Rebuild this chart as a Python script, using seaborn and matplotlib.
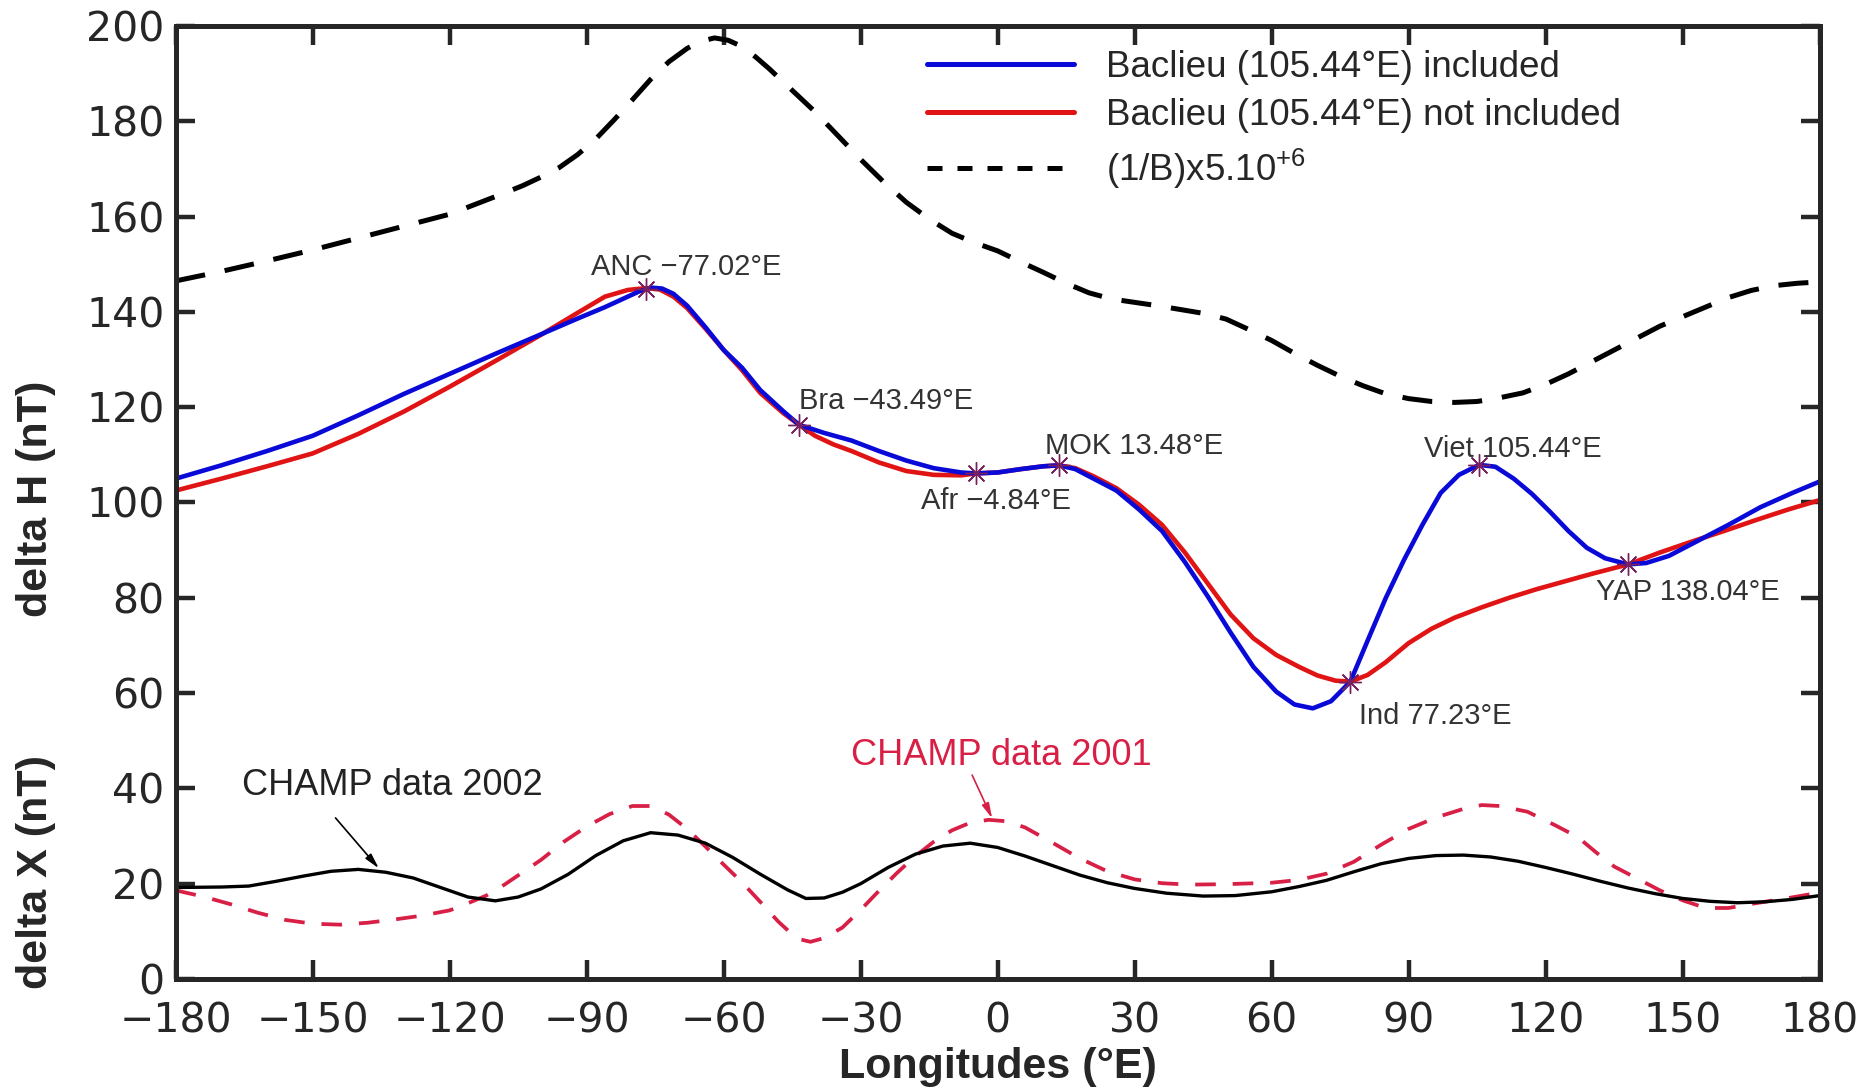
import pandas as pd
import seaborn as sns
import matplotlib.pyplot as plt
import matplotlib.transforms as mtransforms
from matplotlib.lines import Line2D

# ---- data (longitude in deg E, values in nT) ----
# delta H with Baclieu included
lon_inc = [-180, -170, -160, -150, -140, -130, -120, -110, -100, -92, -86, -81, -78.5, -76, -73.5, -71, -68,
           -64, -60, -56, -52, -47, -43.49, -38, -32, -26, -20, -14, -8, -4.84, 0, 5, 10, 13.48, 17,
           21, 26, 31, 36, 41, 46, 51, 56, 61, 65, 69, 73, 77.23, 81, 85, 89, 93, 97, 101, 105.44,
           109, 113, 117, 121, 125, 129, 133, 138.04, 142, 147, 153, 160, 167, 174, 180]
dh_inc = [105, 107.8, 110.8, 114, 118.3, 122.8, 127, 131.2, 135.3, 138.6, 141, 143.2, 144.3, 145.1, 144.9,
          143.8, 141.3, 136.8, 132, 128.3, 123.6, 119.2, 116.3, 114.6, 113, 110.8, 108.8, 107.2, 106.3, 106.1,
          106.3, 107, 107.6, 107.8, 107, 105, 102.5, 98.5, 94, 87.5, 80.3, 72.7, 65.5, 60.3, 57.6, 56.8,
          58.3, 62.4, 71, 80, 88, 95.3, 102, 105.8, 107.9, 107.5, 105, 101.8, 98, 94, 90.5, 88.3, 87,
          87.3, 88.8, 91.8, 95.3, 99, 102, 104.4]

# delta H with Baclieu not included
lon_exc = [-180, -170, -160, -150, -140, -130, -120, -110, -100, -92, -86, -81, -77.02, -74, -71, -68,
           -64, -60, -56, -52, -47, -43.49, -40, -36, -32, -26, -20, -14, -8, -4.84, 0, 5, 10, 13.48,
           17, 21, 26, 31, 36, 41, 46, 51, 56, 61, 66, 70, 74, 77.23, 81, 85, 90, 95, 100, 106, 112,
           118, 124, 130, 138.04, 145, 152, 159, 166, 173, 180]
dh_exc = [102.5, 105, 107.6, 110.3, 114.4, 119.1, 124.3, 129.7, 135.2, 139.8, 143.2, 144.6, 145, 144.7,
          143.2, 140.8, 136.5, 132, 127.8, 123, 118.8, 116.3, 114, 112.2, 110.8, 108.4, 106.6, 105.8,
          105.7, 106.1, 106.3, 107, 107.6, 107.8, 107.2, 105.5, 103, 99.5, 95.3, 89.5, 83, 76.5, 71.5,
          68, 65.5, 63.7, 62.6, 62.4, 63.8, 66.5, 70.5, 73.5, 75.8, 78, 80, 81.8, 83.4, 85, 87, 89.5,
          91.8, 94, 96.3, 98.5, 100.5]

# (1/B) x 5e6
lon_b = [-180, -170, -160, -150, -140, -130, -120, -110, -104, -100, -96, -92, -88, -84, -80, -76, -72,
         -68, -65, -62, -59, -56, -53, -50, -45, -40, -35, -30, -25, -20, -15, -10, -5, 0, 5, 10, 15,
         20, 25, 30, 35, 40, 45, 50, 55, 60, 65, 70, 75, 80, 85, 90, 95, 100, 105, 110, 115, 120, 125,
         130, 135, 140, 145, 150, 155, 160, 165, 170, 175, 180]
inv_b = [146.5, 148.5, 150.7, 153, 155.5, 158, 160.5, 164.2, 166.5, 168.3, 170.3, 173, 176.3, 180.3,
         184.5, 188.8, 192.5, 195.3, 196.8, 197.5, 197, 195.7, 193.5, 191, 186.5, 182, 177, 172,
         167.3, 163, 159.5, 156.5, 154.5, 152.8, 150.5, 148.3, 146, 144, 142.7, 142, 141.3, 140.5,
         139.7, 138.5, 136.3, 134, 131.3, 128.8, 126.5, 124.5, 122.8, 121.8, 121.2, 121, 121.2, 122,
         123, 124.8, 127, 129.5, 132, 134.5, 137, 139, 141, 143, 144.5, 145.5, 146, 146.3]

# CHAMP delta X, 2002 (solid) and 2001 (dashed)
lon_2002 = [-180, -170, -164, -158, -152, -146, -140, -134, -128, -122, -116, -110, -105, -100, -94, -88,
            -82, -76, -70, -64, -58, -52, -46, -42, -38, -34, -30, -24, -18, -12, -6, 0, 6, 12, 18, 24,
            30, 37, 45, 52, 60, 66, 72, 78, 84, 90, 96, 102, 108, 114, 120, 126, 132, 138, 144, 150,
            156, 162, 168, 174, 180]
dx_2002 = [19.2, 19.3, 19.5, 20.5, 21.6, 22.6, 23, 22.4, 21.2, 19.2, 17.2, 16.4, 17.2, 18.9, 22, 25.9,
           29, 30.7, 30.2, 28.5, 25.5, 22, 18.7, 16.9, 17, 18.2, 20, 23.4, 26.2, 27.9, 28.5, 27.6, 25.8,
           23.8, 21.8, 20.2, 19, 18, 17.4, 17.5, 18.3, 19.4, 20.7, 22.5, 24.2, 25.3, 25.9, 26, 25.6,
           24.7, 23.4, 22, 20.5, 19.1, 17.9, 16.9, 16.3, 16, 16.2, 16.7, 17.5]

lon_2001 = [-180, -174, -168, -162, -156, -150, -144, -138, -132, -126, -120, -116, -112, -108, -104,
            -100, -95, -90, -85, -80, -76, -72, -68, -64, -60, -56, -52, -48, -44, -41, -38, -34, -30,
            -26, -22, -18, -14, -10, -6, -2, 2, 6, 12, 18, 24, 30, 36, 42, 50, 60, 66, 72, 78, 84, 90,
            96, 102, 106, 110, 116, 122, 127, 131, 135, 140, 145, 150, 155, 160, 166, 172, 178, 180]
dx_2001 = [18.6, 17.3, 15.7, 13.9, 12.4, 11.6, 11.4, 11.8, 12.5, 13.3, 14.4, 15.9, 17.5, 19.8, 22.4,
           25, 28.8, 32, 34.6, 36.3, 36.3, 34.5, 31.5, 27.8, 24, 20.3, 16.2, 12, 8.5, 7.8, 8.6, 10.8,
           14.5, 18.5, 22.3, 25.8, 28.8, 31.2, 32.8, 33.4, 33.1, 31.8, 28.6, 25.3, 22.6, 20.9, 20.1,
           19.8, 19.9, 20.2, 20.8, 22.1, 24.6, 28.2, 31.5, 33.9, 35.7, 36.5, 36.3, 35.1, 32.3, 29.8,
           26.6, 23.6, 21.1, 18.6, 16.5, 14.9, 14.9, 15.9, 16.8, 17.8, 18]

# magnetometer stations
st_names = ['ANC', 'Bra', 'Afr', 'MOK', 'Ind', 'Viet', 'YAP']
st_lon = [-77.02, -43.49, -4.84, 13.48, 77.23, 105.44, 138.04]
st_dh = [144.8, 116.3, 106.1, 107.8, 62.4, 107.9, 87.0]

# label placement (offset from the station, deg / nT)
lab_off = [(-12, 4.6), (0, 5), (-12, -5.8), (-3.2, 4), (1.9, -7.2), (-12, 3.4), (-7, -5.8)]

sns.set_style('ticks')
plt.rcParams['font.family'] = ['Liberation Sans', 'DejaVu Sans']
plt.rcParams['mathtext.fontset'] = 'custom'
plt.rcParams['mathtext.rm'] = 'Liberation Sans'

fig = plt.figure(figsize=(18.61, 10.88), dpi=100)
ax = fig.add_axes([0.0944, 0.1002, 0.8834, 0.8759])

blue = '#0a0ad8'
red = '#e01414'
crimson = '#d81f45'

sns.lineplot(x=lon_b, y=inv_b, ax=ax, color='black', lw=3.6, sort=False)
ax.lines[-1].set_dashes([6, 4])
sns.lineplot(x=lon_exc, y=dh_exc, ax=ax, color=red, lw=3.3, sort=False)
sns.lineplot(x=lon_inc, y=dh_inc, ax=ax, color=blue, lw=3.3, sort=False)
sns.lineplot(x=lon_2001, y=dx_2001, ax=ax, color=crimson, lw=2.7, sort=False)
ax.lines[-1].set_dashes([5.5, 4.5])
sns.lineplot(x=lon_2002, y=dx_2002, ax=ax, color='black', lw=2.4, sort=False)

ax.plot(st_lon, st_dh, ls='none', marker=(8, 2, 0), ms=16, mec='#7a2060', mew=1.0)

for name, lo, dh, (dxo, dyo) in zip(st_names, st_lon, st_dh, lab_off):
    lab = f'{name} ' + (f'{lo:.2f}'.replace('-', '\u2212')) + '°E'
    ax.text(lo + dxo, dh + dyo, lab, fontsize=21, color='#333333', ha='left', va='center')

# CHAMP annotations
ax.text(-165.5, 40.6, 'CHAMP data 2002', fontsize=26, color='#222222', ha='left', va='center')
ax.text(-32.1, 47.0, 'CHAMP data 2001', fontsize=26, color=crimson, ha='left', va='center')
arrow = '-|>,head_length=0.9,head_width=0.22'
ax.annotate('', xy=(-135.5, 23.2), xytext=(-145, 33.8),
            arrowprops=dict(arrowstyle=arrow, color='black', lw=1.2, shrinkA=0, shrinkB=0))
ax.annotate('', xy=(-1.2, 33.7), xytext=(-5.6, 42.8),
            arrowprops=dict(arrowstyle=arrow, color=crimson, lw=1.2, shrinkA=0, shrinkB=0))

handles = [Line2D([], [], color=blue, lw=3.6),
           Line2D([], [], color=red, lw=3.6),
           Line2D([], [], color='black', lw=3.6, dashes=[3, 3])]
labels = ['Baclieu (105.44°E) included', 'Baclieu (105.44°E) not included',
          r'(1/B)x5.10$^{\mathrm{+6}}$']
ax.legend(handles, labels, loc='upper left', bbox_to_anchor=(0.4415, 1.002), frameon=False,
          fontsize=26.5, handlelength=4.0, handletextpad=0.85, labelspacing=0.36, borderpad=0.2)

ax.set_xlim(-180, 180)
ax.set_ylim(0, 200)
ax.set_xticks(range(-180, 181, 30))
ax.set_yticks(range(0, 201, 20))
ax.tick_params(axis='both', which='both', direction='in', length=14, width=3.2,
               top=True, right=True, labelsize=29.5, pad=8)
ax.tick_params(axis='x', pad=16)
for lab in ax.get_xticklabels() + ax.get_yticklabels():
    lab.set_fontfamily('DejaVu Sans')
for s in ax.spines.values():
    s.set_linewidth(3.6)
    s.set_visible(True)

ax.set_xlabel('Longitudes (°E)', fontsize=31, fontweight='bold', labelpad=4)
trans = mtransforms.blended_transform_factory(ax.transAxes, ax.transData)
ax.text(-0.085, 100.8, 'delta H (nT)', transform=trans, rotation=90, ha='center', va='center',
        fontsize=31, fontweight='bold')
ax.text(-0.085, 22.4, 'delta X (nT)', transform=trans, rotation=90, ha='center', va='center',
        fontsize=31, fontweight='bold')

fig.savefig('out.png', dpi=100)
